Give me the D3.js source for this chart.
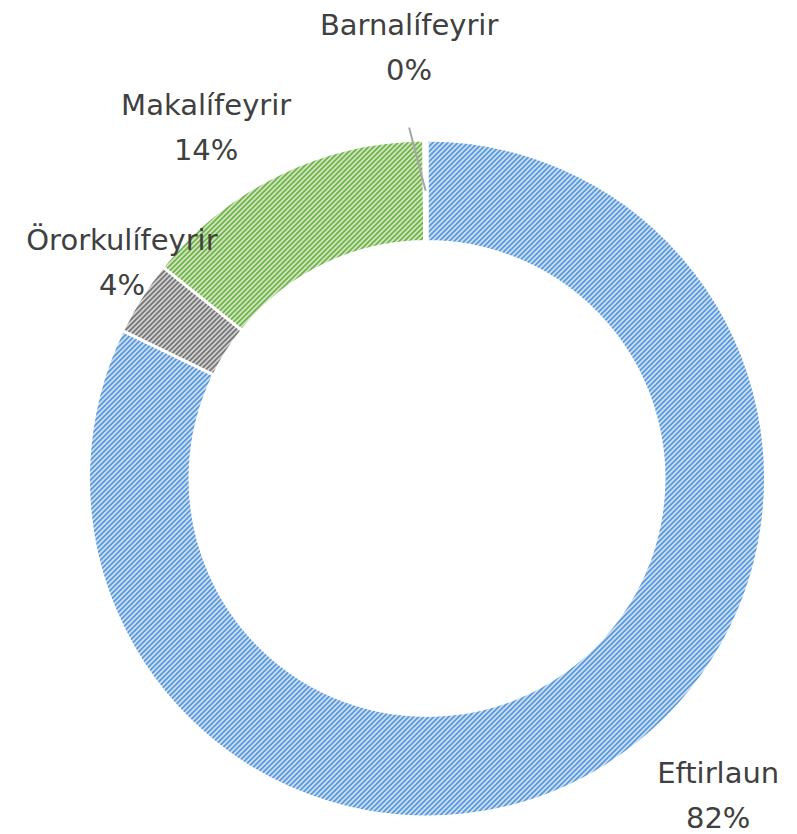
<!DOCTYPE html>
<html>
<head>
<meta charset="utf-8">
<script src="https://cdn.jsdelivr.net/npm/d3@7"></script>
<style>
  body { margin: 0; background: #fff; }
  text { font-family: "DejaVu Sans", sans-serif; fill: #404040; }
</style>
</head>
<body>
<div id="chart"></div>
<script>
// Data
var categories = ["Eftirlaun", "Örorkulífeyrir", "Makalífeyrir", "Barnalífeyrir"];
var values = [82.2, 3.55, 14.1, 0.15];
var pctLabels = ["82%", "4%", "14%", "0%"];

// Colours per slice: hatch colour and background colour
var hatch = ["#4a8fd8", "#6a6a6a", "#66ab3c", "#d0d0d0"];
var back = ["#d8e7f8", "#dadada", "#d8ecca", "#f4f4f4"];

// Layout
var width = 797, height = 834;
var cx = 427, cy = 478.5;
var outerR = 338.5, innerR = 237;
var labelR = 400;
// nudges from the label-radius centroid to where Excel put the labels
var labelNudge = [[79, -35], [33, -15], [-46, -4], [-16, -44]];

var svg = d3.select("#chart")
    .append("svg")
    .attr("width", width)
    .attr("height", height);

var defs = svg.append("defs");

// upward-diagonal hatch
var tile = 5;
hatch.forEach(function(c, i) {
    var p = defs.append("pattern")
        .attr("id", "hatch" + i)
        .attr("patternUnits", "userSpaceOnUse")
        .attr("width", tile)
        .attr("height", tile);
    p.append("rect").attr("width", tile).attr("height", tile).attr("fill", back[i]);
    p.append("path")
        .attr("d", `M0,${tile} L${tile},0 M-1,1 L1,-1 M${tile - 1},${tile + 1} L${tile + 1},${tile - 1}`)
        .attr("stroke", c)
        .attr("stroke-width", 1.7);
});

var data = categories.map(function(c, i) {
    return { label: c, value: values[i], pct: pctLabels[i], i: i };
});

var pie = d3.pie().sort(null).value(d => d.value);
var arcs = pie(data);

var arc = d3.arc().innerRadius(innerR).outerRadius(outerR);
var midArc = d3.arc().innerRadius((innerR + outerR) / 2).outerRadius((innerR + outerR) / 2);
var labelArc = d3.arc().innerRadius(labelR).outerRadius(labelR);

var g = svg.append("g").attr("transform", `translate(${cx},${cy})`);

g.selectAll("path.slice")
    .data(arcs)
    .enter().append("path")
    .attr("class", "slice")
    .attr("d", arc)
    .attr("fill", d => "url(#hatch" + d.data.i + ")")
    .attr("stroke", "#fff")
    .attr("stroke-width", 3);

// labels
var labels = g.selectAll("g.label")
    .data(arcs)
    .enter().append("g")
    .attr("class", "label")
    .attr("transform", function(d) {
        var c = labelArc.centroid(d);
        var n = labelNudge[d.data.i];
        return `translate(${c[0] + n[0]},${c[1] + n[1]})`;
    });

labels.append("text")
    .attr("text-anchor", "middle")
    .style("font-size", "29px")
    .text(d => d.data.label);

labels.append("text")
    .attr("text-anchor", "middle")
    .attr("y", 45)
    .style("font-size", "29px")
    .text(d => d.data.pct);

// leader line for the tiny slice
var tiny = arcs[3];
var lc = labelArc.centroid(tiny), ln = labelNudge[3];
var mc = midArc.centroid(tiny);
g.append("line")
    .attr("x1", lc[0] + ln[0])
    .attr("y1", lc[1] + ln[1] + 93)
    .attr("x2", mc[0])
    .attr("y2", mc[1])
    .attr("stroke", "#a6a6a6")
    .attr("stroke-width", 2);
</script>
</body>
</html>
